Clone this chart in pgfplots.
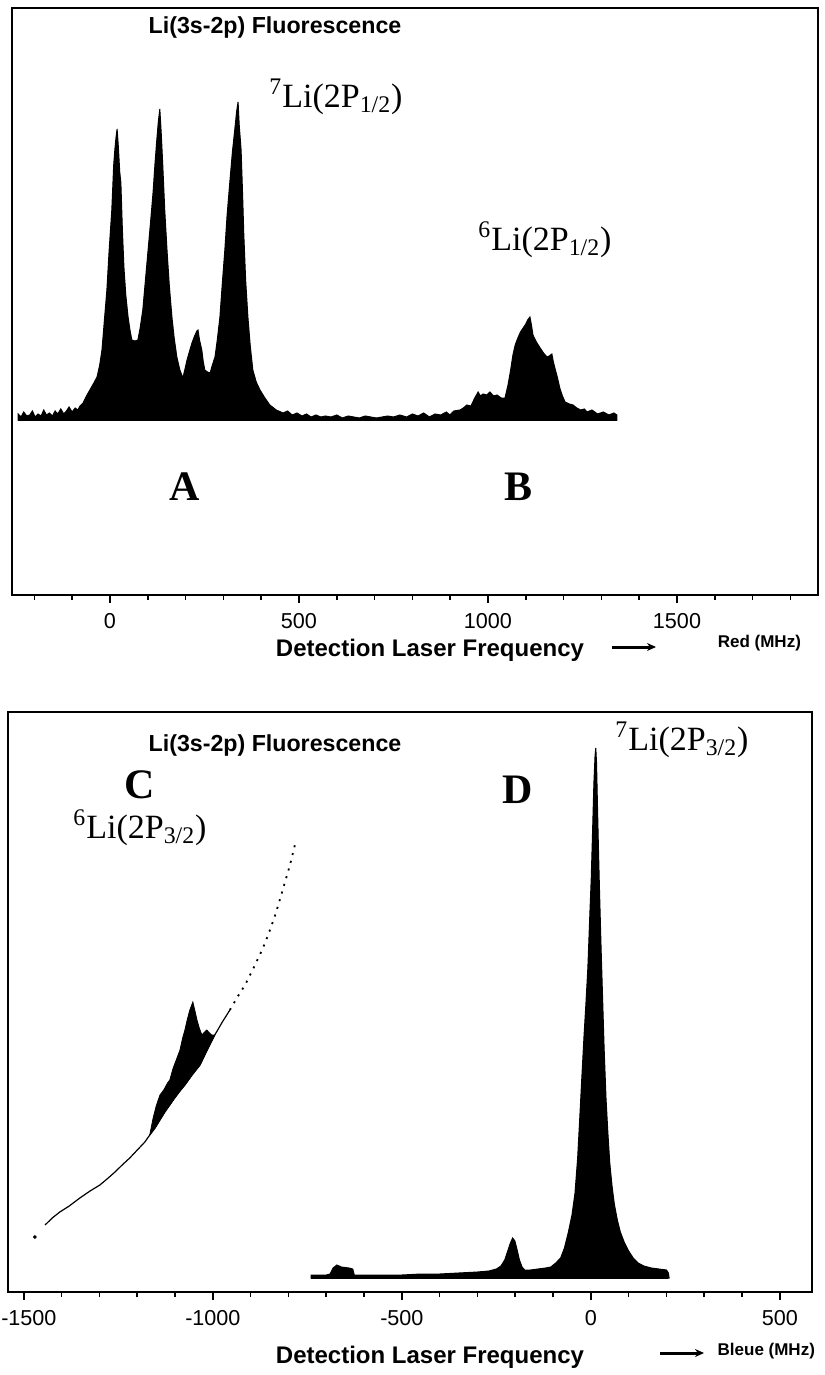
\documentclass[border=0pt]{standalone}
\usepackage{fontspec}
\setmainfont{Liberation Sans}
\newfontfamily\serif{Liberation Serif}
\usepackage{pgfplots}
\pgfplotsset{compat=1.18}
\usetikzlibrary{arrows.meta}

\pgfplotsset{
  spec/.style={
    scale only axis,
    axis line style={line width=1.2pt},
    ytick=\empty,
    xtick pos=bottom,
    tick align=outside,
    major tick length=4pt,
    minor tick length=2.5pt,
    every tick/.style={black,line width=0.8pt},
    xticklabel style={font=\fontsize{10.8}{12}\selectfont, yshift=-1.5pt},
    clip=false,
  }
}

\begin{document}
\begin{tikzpicture}
\useasboundingbox (0,0) rectangle (412pt,-687.5pt);

% ---------------- top panel ----------------
\begin{axis}[spec,
  anchor=north west, at={(6pt,-4pt)},
  width=403pt, height=293.5pt,
  xmin=-259, xmax=1873, ymin=-175, ymax=412,
  xtick={0,500,1000,1500}, xticklabels={0,500,1000,1500},
  minor xtick={-200,-100,100,200,300,400,600,700,800,900,1100,1200,1300,1400,1600,1700,1800},
]
\addplot[fill=black, draw=black, line width=0.5pt] coordinates {
(-243,0) (-243,6) (-235,3) (-228,8) (-220,4) (-212,5) (-205,9) (-198,3) (-190,6) (-182,4)
(-175,10) (-168,5) (-160,7) (-152,4) (-145,9) (-138,6) (-130,11) (-122,6) (-115,9) (-108,13)
(-100,8) (-92,12) (-85,10) (-79,14) (-71,17) (-62,24) (-53,30) (-44,36) (-34,43) (-27,55)
(-21,70) (-15,98) (-8,130) (-2,170) (5,210) (10,255) (13,270) (16,282) (19,291) (22,275)
(26,248) (29,237) (33,190) (37,153) (42,125) (48,103) (53,90) (58,80) (66,79) (74,80)
(80,92) (87,110) (94,140) (101,170) (108,200) (114,227) (119,255) (124,280) (128,298) (132,311)
(136,285) (140,253) (145,210) (151,170) (157,135) (164,103) (170,82) (177,63) (185,50) (193,42)
(198,50) (204,60) (210,68) (217,77) (224,84) (230,89) (233,90) (237,80) (243,70) (247,58)
(251,50) (258,48) (265,47) (271,55) (278,63) (284,80) (291,103) (297,135) (304,170) (310,205)
(317,237) (324,268) (331,293) (335,308) (339,318) (342,295) (347,270) (351,225) (354,187) (359,140)
(365,103) (371,75) (378,50) (387,38) (397,30) (410,22) (423,15) (440,10) (458,7) (470,9)
(482,5) (495,7) (508,4) (520,6) (532,3) (545,5) (558,3) (570,4) (585,3) (600,5)
(615,2) (630,4) (645,3) (660,2) (675,4) (690,3) (705,2) (720,3) (735,4) (750,3)
(767,5) (785,3) (800,6) (815,4) (830,7) (845,3) (860,6) (875,5) (890,8) (899,5)
(910,9) (926,10) (935,12) (944,15) (955,14) (965,22) (974,28) (980,24) (987,26) (997,25)
(1005,28) (1015,24) (1024,25) (1035,22) (1045,22) (1053,35) (1060,50) (1066,65) (1072,75) (1079,82)
(1086,88) (1093,92) (1100,96) (1105,100) (1111,103) (1115,95) (1119,85) (1128,78) (1138,72) (1147,67)
(1156,63) (1162,64) (1169,66) (1173,58) (1177,52) (1184,42) (1190,32) (1197,24) (1204,18) (1215,16)
(1225,15) (1235,12) (1245,10) (1255,11) (1262,8) (1275,10) (1290,6) (1305,8) (1320,5) (1333,7)
(1341,5) (1341,0)
} \closedcycle;
\addplot[black, line width=1.2pt] coordinates {(-243,0) (1341,0)};
\end{axis}

% ---------------- bottom panel ----------------
\begin{axis}[spec,
  anchor=north west, at={(4pt,-356pt)},
  width=402pt, height=290pt,
  xmin=-1542, xmax=585, ymin=-14, ymax=566,
  xtick={-1500,-1000,-500,0,500}, xticklabels={\hspace*{5pt}-1500,-1000,-500,0,500},
  minor xtick={-1400,-1300,-1200,-1100,-900,-800,-700,-600,-400,-300,-200,-100,100,200,300,400},
]
% C background curve (lower part, solid thin)
\addplot[black, line width=0.6pt] coordinates {
(-1444,53) (-1425,60) (-1405,66) (-1380,72) (-1352,80) (-1325,87) (-1299,93) (-1280,99)
(-1259,106) (-1240,113) (-1220,120) (-1200,128) (-1180,136) (-1167,143) (-1153,150)
(-1140,158) (-1127,166) (-1114,173) (-1101,180) (-1087,187) (-1074,193) (-1055,203)
(-1034,213) (-1015,228) (-995,243) (-975,256) (-955,268)
};
% C upper part, dotted
\addplot[black, line width=0.9pt, dash pattern=on 1pt off 3pt] coordinates {
(-955,268) (-935,281) (-915,293) (-895,308) (-876,323) (-862,335) (-849,348) (-836,362)
(-823,378) (-810,395) (-796,413) (-783,433)
};
\addplot[black, only marks, mark=*, mark size=0.7pt] coordinates {(-1471,41)};
% C peak
\addplot[fill=black, draw=black, line width=0.4pt] coordinates {
(-1167,143) (-1158,160) (-1150,172) (-1140,183) (-1130,188) (-1120,195) (-1114,198) (-1105,210)
(-1095,220) (-1087,228) (-1080,240) (-1074,248) (-1068,258) (-1061,268) (-1056,273) (-1053,276)
(-1048,268) (-1042,258) (-1036,250) (-1029,243) (-1022,246) (-1016,248) (-1009,245) (-1003,243)
(-995,243) (-1015,228) (-1034,213) (-1055,203) (-1074,193) (-1087,187) (-1101,180) (-1114,173)
(-1127,166) (-1140,158) (-1153,150) (-1167,143)
};
% D spectrum
\addplot[fill=black, draw=black, line width=0.5pt] coordinates {
(-740,0) (-740,3) (-700,3) (-690,4) (-682,10) (-672,13) (-660,11) (-640,10) (-630,9)
(-626,3) (-600,3) (-550,3) (-500,3) (-450,4) (-400,4) (-350,5) (-300,6) (-270,7)
(-250,9) (-238,12) (-228,18) (-220,27) (-213,35) (-207,40) (-201,37) (-195,28) (-189,18)
(-182,11) (-175,8) (-160,8) (-140,9) (-120,10) (-106,11) (-93,15) (-80,20) (-70,30)
(-60,45) (-50,63) (-42,85) (-35,120) (-29,163) (-24,200) (-18,243) (-13,275) (-8,310)
(-3,361) (1,400) (4,440) (8,495) (11,522) (13,530) (15,515) (17,480) (20,430)
(23,385) (27,330) (31,280) (35,230) (40,180) (45,145) (50,115) (56,92) (62,74)
(70,58) (78,46) (88,36) (100,27) (112,20) (125,15) (140,12) (160,10) (180,9)
(200,8) (205,5) (207,0)
} \closedcycle;
\addplot[black, line width=1.2pt] coordinates {(-740,0) (205,0)};
\end{axis}

% ---------------- texts ----------------
\node[font=\bfseries\fontsize{11.6}{13}\selectfont] at (137.5pt,-14pt) {Li(3s-2p) Fluorescence};
\node[font=\serif\fontsize{17}{19}\selectfont] at (168pt,-48.5pt) {\textsuperscript{7}Li(2P\textsubscript{1/2})};
\node[font=\serif\fontsize{17}{19}\selectfont] at (272.5pt,-120pt) {\textsuperscript{6}Li(2P\textsubscript{1/2})};
\node[font=\serif\bfseries\fontsize{21}{23}\selectfont] at (92.5pt,-243.5pt) {A};
\node[font=\serif\bfseries\fontsize{21}{23}\selectfont] at (259pt,-243.5pt) {B};
\node[font=\bfseries\fontsize{12}{14}\selectfont] at (215pt,-325pt) {Detection Laser Frequency};
\draw[line width=1.5pt, -{Stealth[length=4.5pt,width=4pt]}] (306pt,-323.5pt) -- (328pt,-323.5pt);
\node[font=\bfseries\fontsize{8.5}{10}\selectfont, anchor=east] at (404pt,-321.5pt) {Red (MHz)};

\node[font=\bfseries\fontsize{11.6}{13}\selectfont] at (137.5pt,-372.5pt) {Li(3s-2p) Fluorescence};
\node[font=\serif\bfseries\fontsize{21}{23}\selectfont] at (70pt,-392.5pt) {C};
\node[font=\serif\fontsize{17}{19}\selectfont] at (70pt,-414pt) {\textsuperscript{6}Li(2P\textsubscript{3/2})};
\node[font=\serif\bfseries\fontsize{21}{23}\selectfont] at (259pt,-395pt) {D};
\node[font=\serif\fontsize{17}{19}\selectfont] at (341pt,-370pt) {\textsuperscript{7}Li(2P\textsubscript{3/2})};
\node[font=\bfseries\fontsize{12}{14}\selectfont] at (215pt,-678.5pt) {Detection Laser Frequency};
\draw[line width=1.5pt, -{Stealth[length=4.5pt,width=4pt]}] (330pt,-676.5pt) -- (352pt,-676.5pt);
\node[font=\bfseries\fontsize{8.5}{10}\selectfont, anchor=east] at (411pt,-675.5pt) {Bleue (MHz)};
\end{tikzpicture}
\end{document}
